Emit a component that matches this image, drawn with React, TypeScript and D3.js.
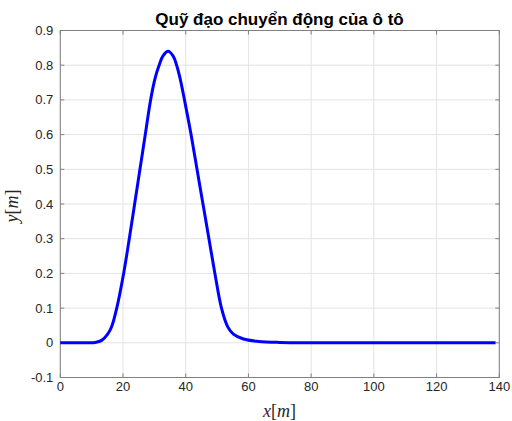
import React from "react";
import * as d3 from "d3";

const titleText = "Quỹ đạo chuyển động của ô tô";
const xTicks = [0, 20, 40, 60, 80, 100, 120, 140];
const yTicks = [-0.1, 0, 0.1, 0.2, 0.3, 0.4, 0.5, 0.6, 0.7, 0.8, 0.9];
const xs = [0, 5, 9, 11.1, 13.2, 15.1, 16.4, 18.0, 20.2, 22.0, 23.7, 25.4, 27.1, 28.8, 30.3, 31.6, 32.7, 34.4, 36.0, 37.1, 38.2, 39.6, 41.7, 43.6, 45.5, 47.4, 49.3, 51.4, 53.4, 55.2, 58.4, 63.2, 70, 80, 100, 120, 138.8];
const ys = [0, 0, 0, 0.001, 0.007, 0.025, 0.047, 0.1, 0.2, 0.3, 0.4, 0.5, 0.6, 0.7, 0.765, 0.802, 0.826, 0.84, 0.826, 0.8, 0.762, 0.7, 0.6, 0.5, 0.4, 0.3, 0.2, 0.1, 0.046, 0.025, 0.011, 0.004, 0.001, 0, 0, 0, 0];

export default function App() {
  const W = 512, H = 421;
  const L = 60.3, R = 499.3, T = 30.5, B = 377.5;
  const x = d3.scaleLinear().domain([0, 140]).range([L, R]);
  const y = d3.scaleLinear().domain([-0.1, 0.9]).range([B, T]);
  const pts = xs.map((v, i) => [v, ys[i]] as [number, number]);
  const line = d3.line<[number, number]>().x(d => x(d[0])).y(d => y(d[1])).curve(d3.curveCatmullRom.alpha(0.5));
  const font = "'Liberation Sans', Arial, Helvetica, sans-serif";
  const serif = "'Liberation Serif', 'DejaVu Serif', serif";
  const tickCol = "#262626";
  return (
    <svg width={W} height={H} style={{ position: "absolute", left: 0, top: 0, background: "#fff" }}>
      <rect x={0} y={0} width={W} height={H} fill="#fff" />
      {xTicks.map(t => (
        <line key={"gx" + t} x1={x(t)} x2={x(t)} y1={T} y2={B} stroke="#e3e3e3" strokeWidth={1} />
      ))}
      {yTicks.map(t => (
        <line key={"gy" + t} x1={L} x2={R} y1={y(t)} y2={y(t)} stroke="#e3e3e3" strokeWidth={1} />
      ))}
      {xTicks.map(t => (
        <g key={"tx" + t}>
          <line x1={x(t)} x2={x(t)} y1={B} y2={B - 4} stroke="#808080" />
          <line x1={x(t)} x2={x(t)} y1={T} y2={T + 4} stroke="#808080" />
          <text x={x(t)} y={B + 13.5} textAnchor="middle" fontFamily={font} fontSize={13} fill={tickCol}>{t}</text>
        </g>
      ))}
      {yTicks.map(t => (
        <g key={"ty" + t}>
          <line x1={L} x2={L + 4} y1={y(t)} y2={y(t)} stroke="#808080" />
          <line x1={R} x2={R - 4} y1={y(t)} y2={y(t)} stroke="#808080" />
          <text x={L - 7} y={y(t) + 4.5} textAnchor="end" fontFamily={font} fontSize={13} fill={tickCol}>{String(Math.round(t * 10) / 10)}</text>
        </g>
      ))}
      <rect x={L} y={T} width={R - L} height={B - T} fill="none" stroke="#808080" strokeWidth={1} />
      <path d={line(pts) || ""} fill="none" stroke="#0000ff" strokeWidth={3} strokeLinejoin="round" />
      <text x={279.5} y={25} textAnchor="middle" fontFamily={font} fontWeight="bold" fontSize={17} fill="#000">{titleText}</text>
      <text x={279.5} y={417} textAnchor="middle" fontFamily={serif} fontSize={18} fill={tickCol}>
        <tspan fontStyle="italic">x</tspan><tspan>[</tspan><tspan fontStyle="italic">m</tspan><tspan>]</tspan>
      </text>
      <text transform={`translate(18,206) rotate(-90)`} textAnchor="middle" fontFamily={serif} fontSize={18} fill={tickCol}>
        <tspan fontStyle="italic">y</tspan><tspan>[</tspan><tspan fontStyle="italic">m</tspan><tspan>]</tspan>
      </text>
    </svg>
  );
}
